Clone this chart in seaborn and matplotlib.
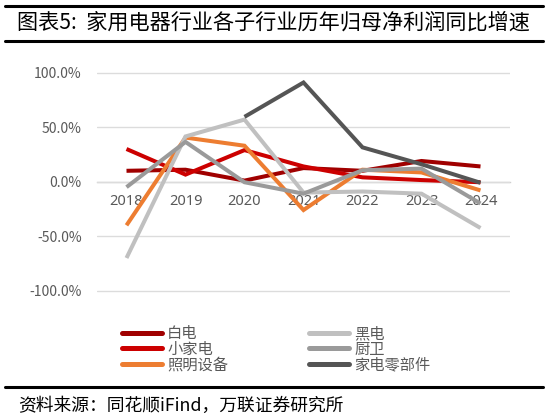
import numpy as np
import pandas as pd
import matplotlib
matplotlib.use("Agg")
import matplotlib.pyplot as plt
import seaborn as sns
from matplotlib.lines import Line2D
from matplotlib.ticker import FuncFormatter, FixedLocator

# ---------------- data ----------------
years = ["2018", "2019", "2020", "2021", "2022", "2023", "2024"]
baidian = [10, 11, 1, 12.5, 10, 19, 14]            # 白电
xiaojiadian = [30, 6.5, 29, 14, 4, 1.5, -0.5]      # 小家电
zhaoming = [-40, 40.5, 33, -26, 11, 8.5, -8]       # 照明设备
heidian = [-70, 41.5, 57, -10, -9, -11, -42.5]     # 黑电
chuwei = [-5, 36.5, -0.5, -11, 10.5, 12, -20]      # 厨卫
lingbujian = [np.nan, np.nan, 59.5, 91, 31.5, 16, -1]  # 家电零部件

series_names = ["白电", "小家电", "照明设备", "黑电", "厨卫", "家电零部件"]
series_vals = [baidian, xiaojiadian, zhaoming, heidian, chuwei, lingbujian]
colors = ["#A00000", "#CC0000", "#ED7D31", "#C0C0C0", "#9A9A9A", "#555555"]
yticks = [-1.0, -0.5, 0.0, 0.5, 1.0]

rows = []
for name, vals in zip(series_names, series_vals):
    for i, (y, v) in enumerate(zip(years, vals)):
        rows.append({"idx": i, "year": y, "series": name, "value": v / 100.0})
df = pd.DataFrame(rows)

# ---------------- style ----------------
sns.set_theme(style="white")
plt.rcParams["font.family"] = ["Noto Sans CJK SC", "DejaVu Sans"]

W, H = 549, 419
fig = plt.figure(figsize=(W / 100, H / 100), dpi=100)

# axes geometry in pixels
x0, x1 = 97, 510
ytop, ybot = 72.7, 290.7          # pixel rows of +100% and -100%
pad = 0.02
ppu = (ybot - ytop) / 2.0
ax_bot = ybot + pad * ppu
ax_top = ytop - pad * ppu
ax = fig.add_axes([x0 / W, 1 - ax_bot / H, (x1 - x0) / W, (ax_bot - ax_top) / H])

palette = dict(zip(series_names, colors))
sns.lineplot(data=df, x="idx", y="value", hue="series", hue_order=series_names,
             palette=palette, linewidth=2.9, ax=ax, legend=False, sort=False)
for ln in ax.lines:
    ln.set_solid_capstyle("butt")
    ln.set_solid_joinstyle("miter")

ax.set_xlim(-0.5, len(years) - 0.5)
ax.set_ylim(-1.0 - pad, 1.0 + pad)
ax.set_xlabel("")
ax.set_ylabel("")

# gridlines
ax.set_yticks(yticks)
ax.yaxis.set_major_formatter(FuncFormatter(lambda v, p: f"{v*100:.1f}%"))
ax.grid(axis="y", color="#DCDCDC", linewidth=1.0)
ax.grid(axis="x", visible=False)
ax.set_axisbelow(True)

for s in ["top", "right", "left"]:
    ax.spines[s].set_visible(False)
ax.spines["bottom"].set_position(("data", 0))
ax.spines["bottom"].set_color("#D0D0D0")
ax.spines["bottom"].set_linewidth(1.0)
ax.spines["bottom"].set_zorder(0.5)

ax.set_xticks(range(len(years)))
ax.set_xticklabels(years)
ax.xaxis.set_minor_locator(FixedLocator([-0.5, 1.5, 4.5, 6.5]))
ax.tick_params(axis="x", which="major", length=0, pad=9, labelsize=10.5,
               labelcolor="#595959")
ax.tick_params(axis="x", which="minor", length=4, width=1, color="#D0D0D0",
               direction="out")
ax.tick_params(axis="y", length=0, pad=11, labelsize=10, labelcolor="#595959")
for t in ax.get_xticklabels():
    t.set_fontfamily(["Noto Sans", "DejaVu Sans"])
for t in ax.get_yticklabels():
    t.set_fontfamily(["Noto Sans CJK SC", "DejaVu Sans"])

# ---------------- legend ----------------
handles = [Line2D([0], [0], color=c, linewidth=3.6) for c in colors]
leg = fig.legend(handles, series_names, loc="upper left",
                 bbox_to_anchor=(122 / W, 1 - 325 / H), ncol=2, frameon=False,
                 fontsize=11, handlelength=2.6, handletextpad=0.35,
                 columnspacing=5.3, labelspacing=-0.08, borderpad=0,
                 borderaxespad=0)
for t in leg.get_texts():
    t.set_color("#595959")

# ---------------- title and source ----------------
for yy in (6.5, 41, 387):
    fig.add_artist(Line2D([5 / W, 543 / W], [1 - yy / H, 1 - yy / H],
                          color="black", linewidth=2.2, transform=fig.transFigure))

fig.text(17 / W, 1 - 23 / H, "图表5:  家用电器行业各子行业历年归母净利润同比增速",
         fontsize=15.2, color="black", ha="left", va="center")
fig.text(18 / W, 1 - 406 / H, "资料来源：同花顺iFind，万联证券研究所",
         fontsize=12.8, color="black", ha="left", va="center")

fig.savefig("out.png", dpi=100)
